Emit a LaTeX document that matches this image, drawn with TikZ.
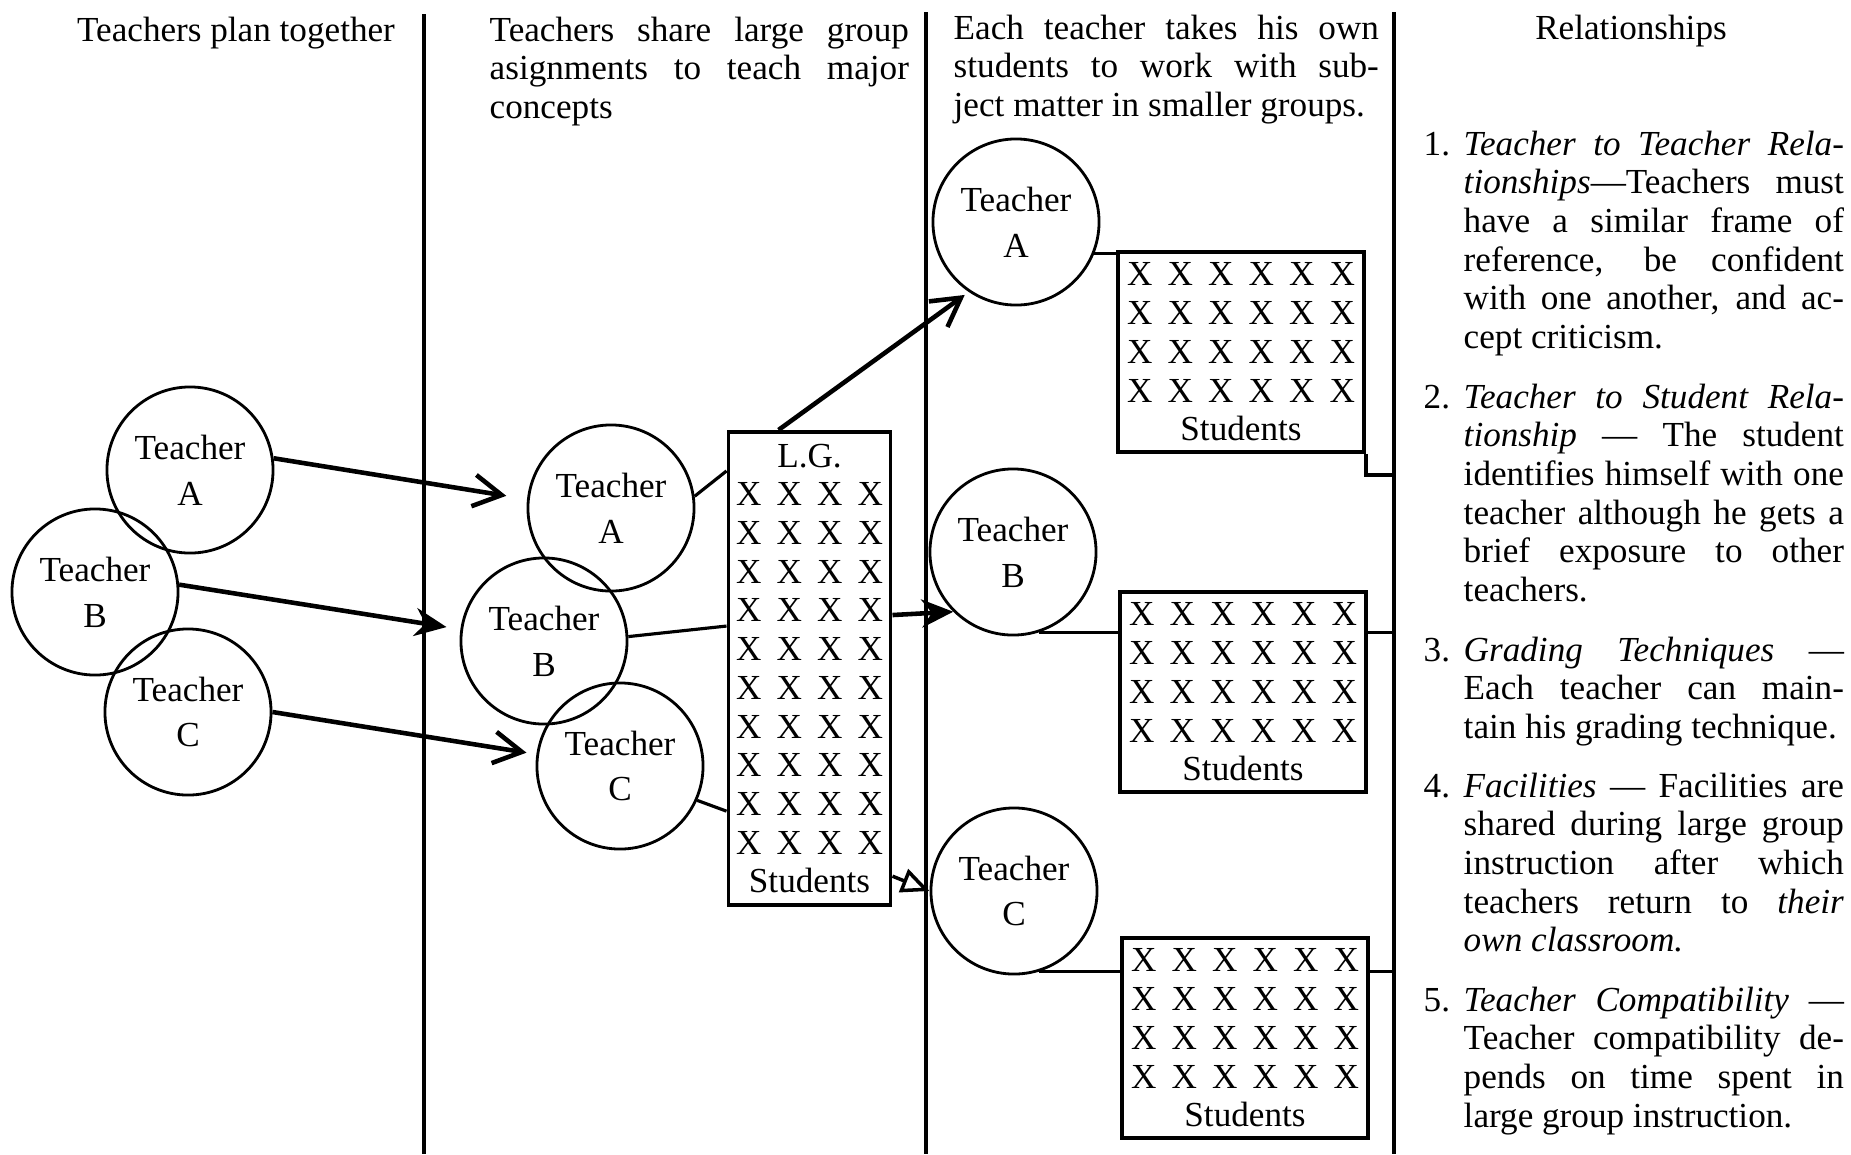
\documentclass[tikz,border=0pt]{standalone}
\usepackage{fontspec}
\setmainfont{Liberation Serif}
\usetikzlibrary{arrows.meta, positioning}
\tolerance=10000
\hyphenpenalty=10000

\newcommand{\xrow}[1]{\foreach \k in {1,...,#1}{\makebox[0.405cm]{X}}}
\newcommand{\relitem}[2]{\noindent\hangindent=0.4cm\hangafter=1\makebox[0.4cm][l]{#1}#2\par}

\begin{document}
\begin{tikzpicture}[
		x=0.01cm, y=-0.01cm,
		every node/.style={inner sep=0pt, font=\fontsize{10}{11}\selectfont},
		teacher/.style={draw, circle, line width=0.8pt, minimum size=1.66cm, align=center},
		group/.style={draw, line width=1.1pt, minimum width=2.46cm, minimum height=2cm, align=center},
		head/.style={anchor=north west, align=justify, execute at begin node=\setlength{\parindent}{0pt}},
		item/.style={anchor=north west, text width=4.2cm, align=justify, execute at begin node=\setlength{\parindent}{0pt}},
		divider/.style={line width=1.2pt},
		link/.style={line width=0.9pt},
		barb/.style={line width=1.3pt, -{Straight Barb[length=8pt, width=9pt, line width=1.3pt]}},
		bold arrow/.style={line width=1.3pt, -{Stealth[length=9pt, width=8pt]}}
	]
	\useasboundingbox (0,0) rectangle (1851,1154);
	
	% Column dividers
	\coordinate (top1) at (424,14);  \coordinate (bot1) at (424,1154);
	\coordinate (top2) at (926,12);  \coordinate (bot2) at (926,1154);
	\coordinate (top3) at (1394,12); \coordinate (bot3) at (1394,1154);
	\draw[divider] (top1) -- (bot1);
	\draw[divider] (top2) -- (bot2);
	\draw[divider] (top3) -- (bot3);
	
	% Column headings
	\node[anchor=north] (plan) at (236,16) {Teachers plan together};
	\node[head, text width=4.19cm] (share) at (489,16) {Teachers share large group\linebreak asignments to teach major\linebreak concepts};
	\node[head, text width=4.25cm] (own) at (953,14) {Each teacher takes his own\linebreak students to work with sub-\linebreak ject matter in smaller groups.};
	\node[anchor=north] (rel) at (1631,14) {Relationships};
	
	% Teachers plan together
	\node[teacher] (LA) at (190,470) {Teacher\\[2pt]A};
	\node[teacher] (LB) at (95,592) {Teacher\\[2pt]B};
	\node[teacher] (LC) at (188,712) {Teacher\\[2pt]C};
	
	% Large group
	\node[teacher] (MA) at (611,508) {Teacher\\[2pt]A};
	\node[teacher] (MB) at (544,641) {Teacher\\[2pt]B};
	\node[teacher] (MC) at (620,766) {Teacher\\[2pt]C};
	\node[group, minimum width=1.61cm, minimum height=4.73cm] (LG) at (809.5,668.5) {L.G.\\\xrow{4}\\\xrow{4}\\\xrow{4}\\\xrow{4}\\\xrow{4}\\\xrow{4}\\\xrow{4}\\\xrow{4}\\\xrow{4}\\\xrow{4}\\Students};
	
	% Small groups
	\node[teacher] (RA) at (1016,222) {Teacher\\[2pt]A};
	\node[teacher] (RB) at (1013,552) {Teacher\\[2pt]B};
	\node[teacher] (RC) at (1014,891) {Teacher\\[2pt]C};
	\node[group] (SA) at (1241,352) {\xrow{6}\\\xrow{6}\\\xrow{6}\\\xrow{6}\\Students};
	\node[group] (SB) at (1243,692) {\xrow{6}\\\xrow{6}\\\xrow{6}\\\xrow{6}\\Students};
	\node[group] (SC) at (1245,1038) {\xrow{6}\\\xrow{6}\\\xrow{6}\\\xrow{6}\\Students};
	
	% Arrows and links
	\draw[barb, shorten >=0.21cm] (LA.8) -- (MA.174);
	\draw[bold arrow, shorten >=0.14cm] (LB.5) -- (MB.172);
	\draw[barb, shorten >=0.1cm] (LC.0) -- (MC.172);
	\draw[link] (MA.8) -- ([yshift=-0.41cm]LG.north west);
	\draw[link] (MB.3) -- ([yshift=-1.96cm]LG.north west);
	\draw[link] (MC.-24) -- ([yshift=-3.81cm]LG.north west);
	\draw[barb, shorten >=0.05cm] ([xshift=0.52cm]LG.north west) -- (RA.236);
	\draw[bold arrow] ([yshift=-1.85cm]LG.north east) -- (RB.225);
	\draw[line width=1pt, -{Triangle[open, length=8pt, width=7pt]}] ([yshift=-4.46cm]LG.north east) -- (RC.180);
	\draw[link] (RA.-22) -- (RA.-22 -| SA.west);
	\draw[link] (SA.south east) -- ++(0,21) coordinate (SAout) -- (SAout -| top3);
	\draw[link] (RB.-72) -- (RB.-72 -| SB.west);
	\draw[link] (RB.-72 -| SB.east) -- (RB.-72 -| top3);
	\draw[link] (RC.-73) -- (RC.-73 -| SC.west);
	\draw[link] (RC.-73 -| SC.east) -- (RC.-73 -| top3);
	
	% Relationships
	\node[item] (rel1) at (1423,130) {\relitem{1.}{\textit{Teacher to Teacher Rela-}\linebreak \textit{tionships}---Teachers must\linebreak have a similar frame of\linebreak reference, be confident\linebreak with one another, and ac-\linebreak cept criticism.}};
	\node[item] (rel2) at (1423,383) {\relitem{2.}{\textit{Teacher to Student Rela-}\linebreak \textit{tionship} --- The student\linebreak identifies himself with one\linebreak teacher although he gets a\linebreak brief exposure to other\linebreak teachers.}};
	\node[item] (rel3) at (1423,636) {\relitem{3.}{\textit{Grading Techniques} ---\linebreak Each teacher can main-\linebreak tain his grading technique.}};
	\node[item] (rel4) at (1423,772) {\relitem{4.}{\textit{Facilities} --- Facilities are\linebreak shared during large group\linebreak instruction after which\linebreak teachers return to \textit{their}\linebreak \textit{own classroom.}}};
	\node[item] (rel5) at (1423,986) {\relitem{5.}{\textit{Teacher Compatibility} ---\linebreak Teacher compatibility de-\linebreak pends on time spent in\linebreak large group instruction.}};
\end{tikzpicture}
\end{document}
